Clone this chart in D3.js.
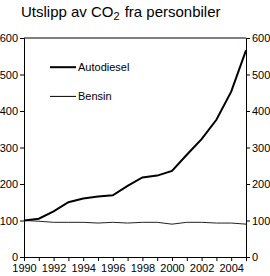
<!DOCTYPE html>
<html>
<head>
<meta charset="utf-8">
<script src="https://cdn.jsdelivr.net/npm/d3@7"></script>
<style>
  body { margin: 0; background: #fff; }
  text { font-family: Arial, "Liberation Sans", sans-serif; fill: #000; }
</style>
</head>
<body>
<svg id="chart" width="270" height="276"></svg>
<script>
const years = d3.range(1990, 2006);
const autodiesel = [100, 105, 125, 150, 160, 166, 169, 195, 218, 223, 236, 280, 323, 376, 453, 566];
const bensin = [100, 98, 95, 95, 95, 93, 95, 93, 95, 95, 90, 95, 95, 93, 93, 90];
const yTicks = [0, 100, 200, 300, 400, 500, 600];
const xLabels = [1990, 1992, 1994, 1996, 1998, 2000, 2002, 2004];

const svg = d3.select("#chart");
const margin = { left: 24, right: 24, top: 38, bottom: 19 };
const width = 270, height = 276;

const x = d3.scaleLinear().domain([1990, 2005]).range([margin.left, width - margin.right]);
const y = d3.scaleLinear().domain([0, 600]).range([height - margin.bottom, margin.top]);

// title
const title = svg.append("text").attr("x", 21).attr("y", 17).attr("font-size", 15);
title.append("tspan").text("Utslipp av CO");
title.append("tspan").attr("font-size", 11).attr("dy", 3).text("2");
title.append("tspan").attr("dy", -3).attr("dx", 5).text("fra personbiler");

// top frame line
svg.append("line")
  .attr("x1", x(1990)).attr("x2", x(2005))
  .attr("y1", y(600)).attr("y2", y(600))
  .attr("stroke", "#000").attr("stroke-width", 1);

// axes
const left = svg.append("g").attr("transform", `translate(${x(1990)},0)`)
  .call(d3.axisLeft(y).tickValues(yTicks).tickSize(4).tickPadding(2));
const right = svg.append("g").attr("transform", `translate(${x(2005)},0)`)
  .call(d3.axisRight(y).tickValues(yTicks).tickSize(4).tickPadding(2));
const bottom = svg.append("g").attr("transform", `translate(0,${y(0)})`)
  .call(d3.axisBottom(x).tickValues(years).tickSize(4).tickPadding(3)
    .tickFormat(d => xLabels.includes(d) ? d : ""));

[left, right, bottom].forEach(g => {
  g.select(".domain").attr("stroke", "#000");
  g.selectAll(".tick line").attr("stroke", "#000");
  g.selectAll(".tick text").attr("font-size", 11).attr("font-family", "Arial, 'Liberation Sans', sans-serif");
});

const line = d3.line().x((d, i) => x(years[i])).y(d => y(d));

svg.append("path").datum(bensin)
  .attr("d", line).attr("fill", "none")
  .attr("stroke", "#222").attr("stroke-width", 1);

svg.append("path").datum(autodiesel)
  .attr("d", line).attr("fill", "none")
  .attr("stroke", "#000").attr("stroke-width", 2);

// legend
const legend = [
  { name: "Autodiesel", w: 2, yv: 520 },
  { name: "Bensin", w: 1, yv: 440 }
];
legend.forEach(l => {
  svg.append("line")
    .attr("x1", 50).attr("x2", 76)
    .attr("y1", y(l.yv)).attr("y2", y(l.yv))
    .attr("stroke", "#000").attr("stroke-width", l.w);
  svg.append("text").attr("x", 78).attr("y", y(l.yv) + 4)
    .attr("font-size", 11).text(l.name);
});
</script>
</body>
</html>
